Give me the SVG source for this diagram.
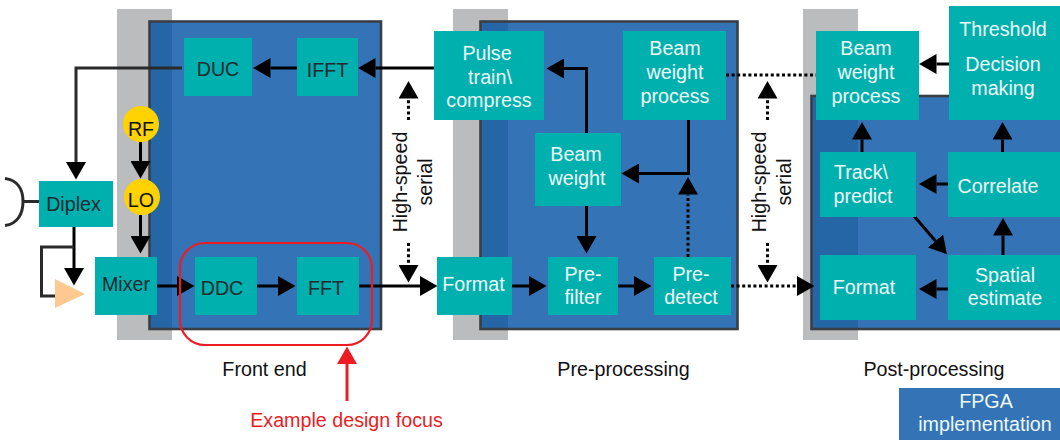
<svg xmlns="http://www.w3.org/2000/svg" width="1060" height="440" viewBox="0 0 1060 440">
<style>
text{font-family:"Liberation Sans",Arial,sans-serif;font-size:19.7px;text-anchor:middle}
.band{fill:#bbbcbe}.fpga{fill:#3474b6}.over{fill:#2566a6}.edge{fill:none;stroke:#3a3f45;stroke-width:2.6}
.box{fill:#00b0ae}.w{fill:#eef9f8}.d{fill:#1f2b30}.k{fill:#111}
.c{fill:none;stroke:#000;stroke-width:3}.g{stroke:#2b2a2b}.dot{stroke-dasharray:3 2.6}
.coin{fill:#ffd200}
</style>
<defs>
<marker id="a" markerUnits="userSpaceOnUse" markerWidth="18" markerHeight="20" viewBox="0 0 18 20" refX="0" refY="10" orient="auto"><path d="M0 0L17.5 10L0 20Z" fill="#000"/></marker>
<marker id="r" markerUnits="userSpaceOnUse" markerWidth="18" markerHeight="20" viewBox="0 0 18 20" refX="0" refY="10" orient="auto"><path d="M0 0L17.5 10L0 20Z" fill="#ed1c24"/></marker>
</defs>
<g id="panels">
<rect class="band" x="117" y="9" width="55" height="331"/>
<rect class="band" x="453" y="9" width="55" height="331"/>
<rect class="band" x="803" y="9" width="55" height="331"/>
<rect class="fpga" x="149.500" y="21.500" width="231.500" height="307.500"/>
<rect class="over" x="149.500" y="21.500" width="22.500" height="307.500"/>
<rect class="edge" x="149.500" y="21.500" width="231.500" height="307.500"/>
<rect class="fpga" x="480.500" y="21.500" width="257" height="307.500"/>
<rect class="over" x="480.500" y="21.500" width="27.500" height="307.500"/>
<rect class="edge" x="480.500" y="21.500" width="257" height="307.500"/>
<rect class="fpga" x="811.500" y="96" width="260" height="233"/>
<rect class="over" x="811.500" y="96" width="46.500" height="233"/>
<rect class="edge" x="811.500" y="96" width="260" height="233"/>
</g>
<g id="connectors">
<path class="c g" d="M182 68H76V162" marker-end="url(#a)"/>
<path class="c" d="M297 68H270.500" marker-end="url(#a)"/>
<path class="c" d="M434 68H375.500" marker-end="url(#a)"/>
<path class="c" d="M140.500 142V161" marker-end="url(#a)"/>
<path class="c" d="M140.500 215V236" marker-end="url(#a)"/>
<path class="c" d="M74 227V268" marker-end="url(#a)"/>
<path class="c g" d="M74 247H41.500V296H56"/>
<path class="c g" d="M5 178.500C18 180 23 190 23 201.500C23 213 18 224 5 225.500M23 201.500H39"/>
<path class="c" d="M157 286H177" marker-end="url(#a)"/>
<path class="c" d="M257 286H278" marker-end="url(#a)"/>
<path class="c" d="M359 286H420" marker-end="url(#a)"/>
<path class="c" d="M512 286H529" marker-end="url(#a)"/>
<path class="c" d="M618 286H634" marker-end="url(#a)"/>
<path class="c dot" d="M731 286H797" marker-end="url(#a)"/>
<path class="c dot" d="M688 257V194.500" marker-end="url(#a)"/>
<path class="c" d="M586.500 206V236" marker-end="url(#a)"/>
<path class="c" d="M688.500 120V173.500H639" marker-end="url(#a)"/>
<path class="c" d="M586.500 133V68.500H564" marker-end="url(#a)"/>
<path class="c dot" d="M726 75H816"/>
<path class="c" d="M949 64H936.500" marker-end="url(#a)"/>
<path class="c" d="M862 152V139.500" marker-end="url(#a)"/>
<path class="c" d="M1002.500 152V139.500" marker-end="url(#a)"/>
<path class="c" d="M948 184H936.500" marker-end="url(#a)"/>
<path class="c" d="M1003 255V235.500" marker-end="url(#a)"/>
<path class="c" d="M948 289H936.500" marker-end="url(#a)"/>
<path class="c" d="M914 216L935.500 241" marker-end="url(#a)"/>
<path class="c dot" d="M408.500 120V98.500" marker-end="url(#a)"/>
<path class="c dot" d="M408.500 243V265" marker-end="url(#a)"/>
<path class="c dot" d="M767.500 120V98.500" marker-end="url(#a)"/>
<path class="c dot" d="M767.500 243V265" marker-end="url(#a)"/>
<path d="M347 401V364" fill="none" stroke="#ed1c24" stroke-width="3" marker-end="url(#r)"/>
</g>
<g id="amp"><path d="M55 279L85 294L55 308Z" fill="#fdc990"/></g>
<g id="diplex"><rect class="box" x="39" y="181" width="74" height="46"/><text class="d" x="73.500" y="211">Diplex</text></g>
<g id="duc"><rect class="box" x="184" y="38" width="68" height="58"/><text class="d" x="218" y="76">DUC</text></g>
<g id="ifft"><rect class="box" x="297" y="38" width="61" height="58"/><text class="d" x="327.500" y="77">IFFT</text></g>
<g id="rf"><circle class="coin" cx="141" cy="124" r="18"/><text class="k" x="141" y="136">RF</text></g>
<g id="lo"><circle class="coin" cx="142" cy="197" r="18"/><text class="k" x="141" y="207">LO</text></g>
<g id="mixer"><rect class="box" x="95" y="257" width="62" height="58"/><text class="d" x="126" y="291">Mixer</text></g>
<g id="ddc"><rect class="box" x="195" y="257" width="62" height="58"/><text class="d" x="222" y="295">DDC</text></g>
<g id="fft"><rect class="box" x="297" y="257" width="62" height="58"/><text class="d" x="326" y="295">FFT</text></g>
<g id="pulse"><rect class="box" x="434" y="31" width="110" height="89"/><text class="w" x="487" y="60">Pulse</text><text class="w" x="490" y="84">train\</text><text class="w" x="489" y="107">compress</text></g>
<g id="bwp1"><rect class="box" x="623" y="31" width="103" height="89"/><text class="w" x="675" y="55">Beam</text><text class="w" x="675" y="79">weight</text><text class="w" x="675" y="103">process</text></g>
<g id="beam"><rect class="box" x="535" y="133" width="86" height="73"/><text class="w" x="576" y="161">Beam</text><text class="w" x="577" y="185">weight</text></g>
<g id="format1"><rect class="box" x="437" y="257" width="75" height="58"/><text class="w" x="473.500" y="291">Format</text></g>
<g id="prefilter"><rect class="box" x="548" y="257" width="70" height="58"/><text class="w" x="583" y="281">Pre-</text><text class="w" x="583" y="304">filter</text></g>
<g id="predetect"><rect class="box" x="654" y="257" width="77" height="58"/><text class="w" x="691" y="281">Pre-</text><text class="w" x="691" y="304">detect</text></g>
<g id="bwp2"><rect class="box" x="816" y="31" width="103" height="89"/><text class="w" x="866" y="55">Beam</text><text class="w" x="866" y="79">weight</text><text class="w" x="866" y="103">process</text></g>
<g id="threshold"><rect class="box" x="949" y="6" width="111" height="114"/><text class="w" x="1003" y="36">Threshold</text><text class="w" x="1003" y="71">Decision</text><text class="w" x="1003" y="95">making</text></g>
<g id="track"><rect class="box" x="820" y="152" width="96" height="65"/><text class="w" x="861" y="179">Track\</text><text class="w" x="863" y="203">predict</text></g>
<g id="correlate"><rect class="box" x="948" y="152" width="112" height="65"/><text class="w" x="998" y="193">Correlate</text></g>
<g id="format2"><rect class="box" x="820" y="255" width="96" height="65"/><text class="w" x="864" y="294">Format</text></g>
<g id="spatial"><rect class="box" x="948" y="255" width="112" height="65"/><text class="w" x="1005" y="282">Spatial</text><text class="w" x="1005" y="305">estimate</text></g>
<g id="focus"><rect x="180" y="243" width="192" height="102" rx="25" fill="none" stroke="#ed1c24" stroke-width="2.2"/><text x="346.500" y="427" fill="#ed1c24">Example design focus</text></g>
<g id="labels">
<text class="k" x="264.500" y="376">Front end</text>
<text class="k" x="623.500" y="376">Pre-processing</text>
<text class="k" x="934" y="376">Post-processing</text>
<text class="k" transform="translate(407 182) rotate(-90)">High-speed</text>
<text class="k" transform="translate(432 182) rotate(-90)">serial</text>
<text class="k" transform="translate(766 182) rotate(-90)">High-speed</text>
<text class="k" transform="translate(791 182) rotate(-90)">serial</text>
</g>
<g id="legend"><rect class="fpga" x="899" y="388" width="161" height="52"/><text class="w" x="986" y="408">FPGA</text><text class="w" x="985" y="431">implementation</text></g>
</svg>
